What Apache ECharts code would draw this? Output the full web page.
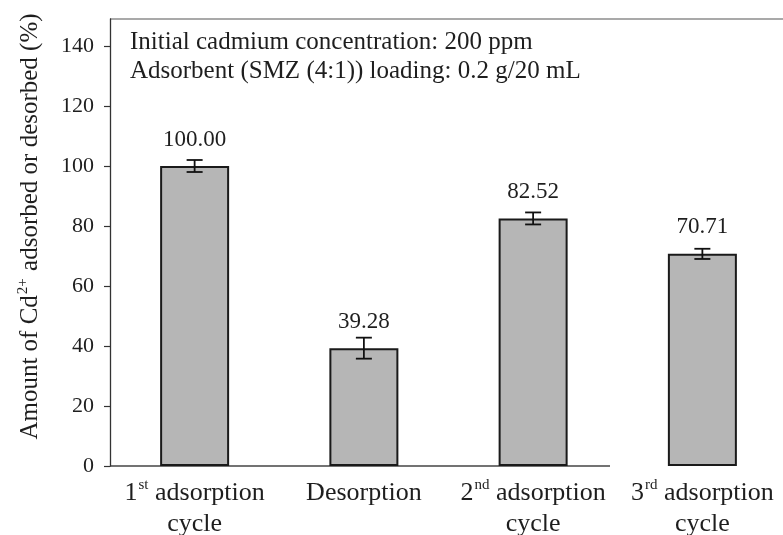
<!DOCTYPE html>
<html>
<head>
<meta charset="utf-8">
<script src="https://cdn.jsdelivr.net/npm/echarts@6/dist/echarts.min.js"></script>
<style>
  html, body { margin: 0; padding: 0; background: #fff; }
  #chart { width: 783px; height: 535px; }
</style>
</head>
<body>
<div id="chart"></div>
<script>
// data
var categories = ['1st adsorption cycle', 'Desorption', '2nd adsorption cycle', '3rd adsorption cycle'];
var amounts = [100.00, 39.28, 82.52, 70.71];
var errors = [2.0, 3.5, 2.0, 1.7];
var yTicks = [0, 20, 40, 60, 80, 100, 120, 140];
var notes = ['Initial cadmium concentration: 200 ppm', 'Adsorbent (SMZ (4:1)) loading: 0.2 g/20 mL'];

var serif = 'Liberation Serif';
var ink = '#1e1e1e';

var chart = echarts.init(document.getElementById('chart'));

// 1st/2nd/3rd -> superscript suffix
function catLabel(v) {
  var m = /^(\d)(st|nd|rd) adsorption cycle$/.exec(v);
  if (!m) return '{a|' + v + '}';
  return '{a|' + m[1] + '}{sup|' + m[2] + '}{a| adsorption}\n{a|cycle}';
}

var errData = amounts.map(function (v, i) {
  return [i, v - errors[i], v + errors[i]];
});

chart.setOption({
  animation: false,
  grid: { left: 110, right: -4, top: 19, bottom: 69, outerBoundsMode: 'none' },
  xAxis: {
    type: 'category',
    data: categories,
    axisLine: { show: false },
    axisTick: { show: false },
    axisLabel: {
      interval: 0,
      hideOverlap: false,
      margin: 12,
      formatter: catLabel,
      rich: {
        a: { fontFamily: serif, fontSize: 26, color: ink, lineHeight: 31 },
        sup: { fontFamily: serif, fontSize: 15, color: ink, lineHeight: 31, verticalAlign: 'top', padding: [0, 0, 0, 1] }
      }
    }
  },
  yAxis: {
    type: 'value',
    min: 0,
    max: 149,
    interval: 20,
    splitLine: { show: false },
    axisLine: { show: true, lineStyle: { color: '#333', width: 1.3 } },
    axisTick: { show: true, length: 6, customValues: yTicks, lineStyle: { color: '#333', width: 1.2 } },
    axisLabel: { customValues: yTicks, margin: 16, fontFamily: serif, fontSize: 22, color: ink },
    name: '{a|Amount of Cd}{sup|2+}{a| adsorbed or desorbed (%)}',
    nameLocation: 'middle',
    nameRotate: 90,
    nameGap: 65,
    nameTextStyle: {
      padding: [0, 0, 0, 32],
      rich: {
        a: { fontFamily: serif, fontSize: 25, color: ink, lineHeight: 29 },
        sup: { fontFamily: serif, fontSize: 15, color: ink, lineHeight: 29, verticalAlign: 'top', padding: [0, 1, 0, 1] }
      }
    }
  },
  series: [
    {
      type: 'bar',
      data: amounts,
      barWidth: 69,
      itemStyle: { color: '#b6b6b6', borderColor: '#1a1a1a', borderWidth: 2 },
      label: {
        show: true,
        position: 'top',
        distance: 15,
        fontFamily: serif,
        fontSize: 23,
        color: ink,
        formatter: function (p) { return p.value.toFixed(2); }
      },
      z: 2
    },
    {
      type: 'custom',
      data: errData,
      encode: { x: 0, y: [1, 2] },
      z: 3,
      renderItem: function (params, api) {
        var lo = api.coord([api.value(0), api.value(1)]);
        var hi = api.coord([api.value(0), api.value(2)]);
        var w = 8;
        var st = { stroke: '#111', lineWidth: 1.8 };
        return {
          type: 'group',
          children: [
            { type: 'line', shape: { x1: hi[0], y1: hi[1], x2: lo[0], y2: lo[1] }, style: st },
            { type: 'line', shape: { x1: hi[0] - w, y1: hi[1], x2: hi[0] + w, y2: hi[1] }, style: st },
            { type: 'line', shape: { x1: lo[0] - w, y1: lo[1], x2: lo[0] + w, y2: lo[1] }, style: st }
          ]
        };
      }
    }
  ],
  graphic: [
    // frame top line and the short x axis line of the original figure
    { type: 'line', shape: { x1: 110, y1: 19, x2: 783, y2: 19 }, style: { stroke: '#555', lineWidth: 1.2 } },
    { type: 'line', shape: { x1: 110, y1: 466, x2: 610, y2: 466 }, style: { stroke: '#444', lineWidth: 1.6 } },
    {
      type: 'text',
      left: 130,
      top: 28,
      style: {
        text: notes.join('\n'),
        font: '25px "Liberation Serif"',
        fill: ink,
        lineHeight: 29
      }
    }
  ]
});
</script>
</body>
</html>
